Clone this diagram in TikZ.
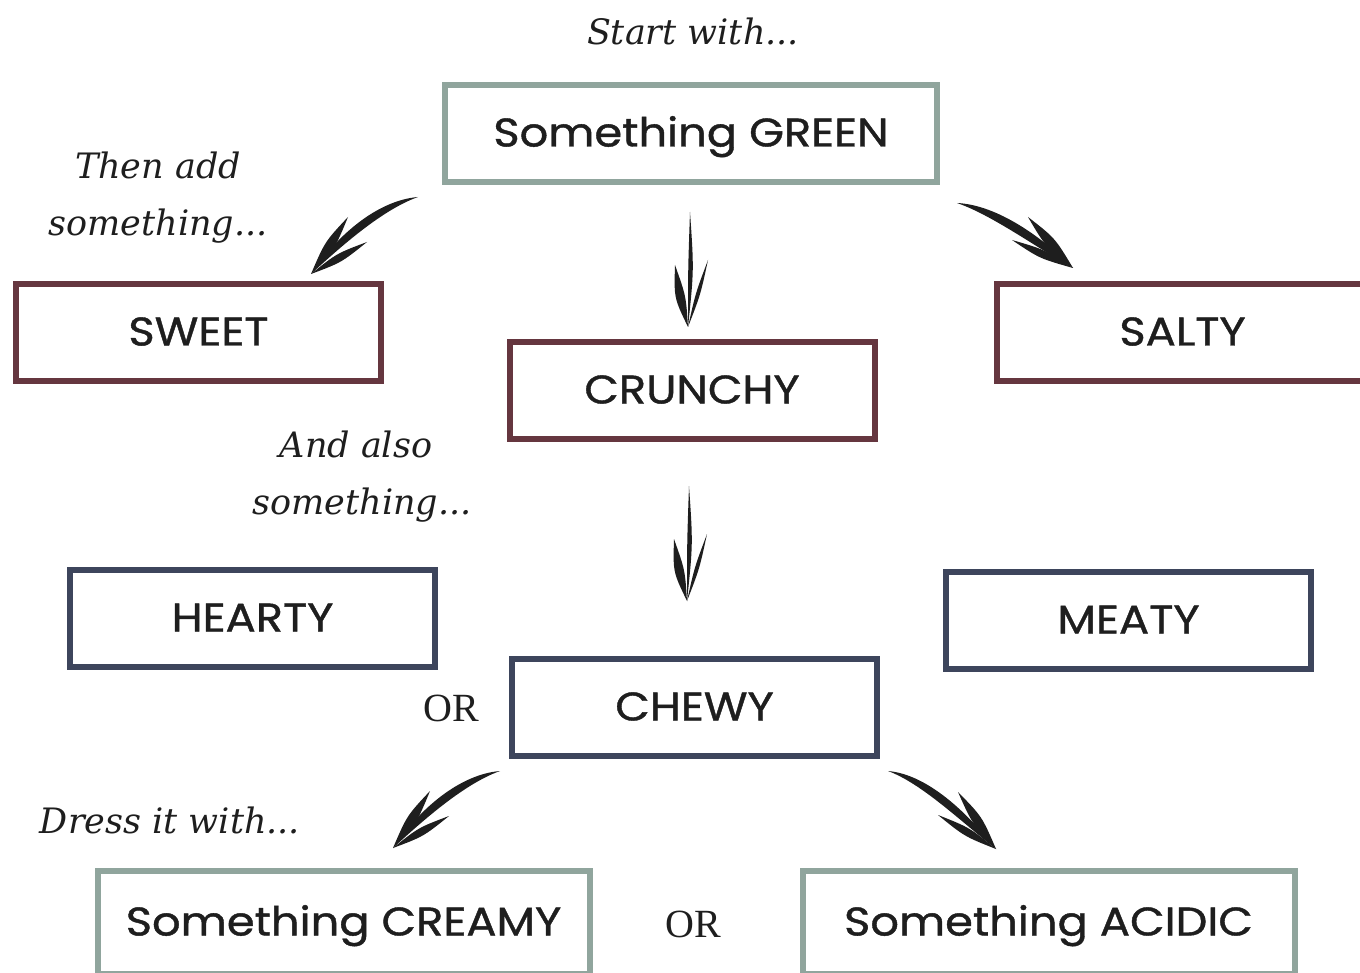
\documentclass[tikz,border=0pt]{standalone}
\usepackage{fontspec}
\setmainfont{Liberation Serif}
\newfontfamily\boxfont{Poppins}[FakeBold=1.0, FakeStretch=1.12]
\newfontfamily\notefont{DejaVu Serif}
\usetikzlibrary{calc}
\definecolor{cgreen}{HTML}{90A59D}
\definecolor{cmaroon}{HTML}{65363F}
\definecolor{cnavy}{HTML}{3D455C}
\definecolor{ink}{HTML}{1E1E1E}
\newcommand\brush[4]{\fill[ink] #1 .. controls ($#2+#4$) .. #3 .. controls ($#2-#4$) .. #1;}
\newcommand\brushc[5]{\fill[ink] #1 .. controls ($#2+#5$) and ($#3+#5$) .. #4 .. controls ($#3-#5$) and ($#2-#5$) .. #1;}
\tikzset{
  box/.style={draw, line width=6pt, fill=white, minimum height=97pt, inner sep=0pt,
    font=\boxfont\fontsize{40}{46}\selectfont, text=ink, text height=26pt, text depth=0pt},
  greenbox/.style={box, draw=cgreen, minimum width=492pt},
  maroonbox/.style={box, draw=cmaroon, minimum width=365pt},
  navybox/.style={box, draw=cnavy, minimum width=365pt},
  note/.style={font=\notefont\itshape\fontsize{35}{57}\selectfont, text=ink, align=center, inner sep=0pt},
  ortext/.style={font=\fontsize{40}{44}\selectfont, text=ink, inner sep=0pt}
}
\begin{document}
\begin{tikzpicture}[x=1pt,y=-1pt]
\useasboundingbox (0,0) rectangle (1360,973);
\clip (0,0) rectangle (1360,973);
\fill[white] (0,0) rectangle (1360,973);

% boxes
\node[greenbox] (green) at (691,133.5) {Something GREEN};
\node[maroonbox] (sweet) at (198.5,332.5) {SWEET};
\node[maroonbox] (crunchy) at (692,390.5) {CRUNCHY};
\node[maroonbox, minimum width=371pt] (salty) at (1182.5,332.5) {SALTY};
\node[navybox] (hearty) at (252.5,618.5) {HEARTY};
\node[navybox] (meaty) at (1128.5,620.5) {MEATY};
\node[navybox] (chewy) at (694.5,707.5) {CHEWY};
\node[greenbox, minimum height=103pt] (creamy) at (343.5,922.5) {Something CREAMY};
\node[greenbox, minimum height=103pt] (acidic) at (1048.5,922.5) {Something ACIDIC};

% notes
\node[note] (n1) at (693,31) {Start with...};
\node[note] (n2) at (158,198) {Then add\\ something...};
\node[note] (n3) at (362,477) {\hspace*{-12pt}And also\\ something...};
\node[note] (n4) at (170,820) {Dress it with...};
\node[ortext] (or1) at (451,708) {OR};
\node[ortext] (or2) at (693,924) {OR};

% arrow green -> sweet
\brushc{(418,197)}{(380,205)}{(340,240)}{(311,274)}{(3,4.5)}
\brush{(348,217)}{(330,245)}{(311,274)}{(5,3.5)}
\brush{(367,242)}{(339,258)}{(311,274)}{(2.5,4.5)}
% arrow green -> salty
\brushc{(957,203)}{(995,210)}{(1040,243)}{(1073,268)}{(-3,5)}
\brush{(1028,217)}{(1050,242)}{(1073,268)}{(-5,4)}
\brush{(1012,240)}{(1042,254)}{(1073,268)}{(-2.5,4.5)}
% arrow green -> crunchy
\brush{(690,212)}{(691,270)}{(688,327)}{(3,0)}
\brush{(675,265)}{(680,297)}{(688,327)}{(6,-1)}
\brush{(708,260)}{(698,294)}{(688,327)}{(2.5,0.8)}
% arrow crunchy -> chewy
\begin{scope}[shift={(-1,274)}]
\brush{(690,212)}{(691,270)}{(688,327)}{(3,0)}
\brush{(675,265)}{(680,297)}{(688,327)}{(6,-1)}
\brush{(708,260)}{(698,294)}{(688,327)}{(2.5,0.8)}
\end{scope}
% arrow chewy -> creamy
\begin{scope}[shift={(82,574)}]
\brushc{(418,197)}{(380,205)}{(340,240)}{(311,274)}{(3,4.5)}
\brush{(348,217)}{(330,245)}{(311,274)}{(5,3.5)}
\brush{(367,242)}{(339,258)}{(311,274)}{(2.5,4.5)}
\end{scope}
% arrow chewy -> acidic
\brushc{(888,771)}{(925,779)}{(965,818)}{(996,849)}{(-3,4.5)}
\brush{(958,792)}{(977,820)}{(996,849)}{(-5,3.5)}
\brush{(938,815)}{(967,832)}{(996,849)}{(-2.5,4.5)}
\end{tikzpicture}
\end{document}
